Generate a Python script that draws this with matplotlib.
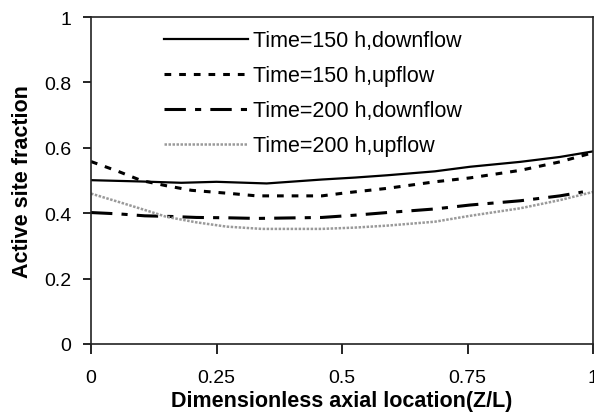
import matplotlib
matplotlib.use("Agg")
import matplotlib.pyplot as plt

plt.rcParams['font.family'] = ['Liberation Sans', 'DejaVu Sans']

# Data
x_150_down = [0.0, 0.10, 0.18, 0.25, 0.35, 0.46, 0.526, 0.59, 0.685, 0.755, 0.855, 0.934, 1.0]
y_150_down = [0.501, 0.497, 0.493, 0.496, 0.491, 0.503, 0.509, 0.516, 0.528, 0.542, 0.557, 0.572, 0.589]

x_150_up = [0.0, 0.054, 0.10, 0.15, 0.20, 0.28, 0.33, 0.46, 0.506, 0.59, 0.685, 0.755, 0.855, 0.934, 1.0]
y_150_up = [0.558, 0.528, 0.500, 0.484, 0.470, 0.460, 0.453, 0.453, 0.462, 0.476, 0.496, 0.508, 0.531, 0.557, 0.585]

x_200_down = [0.0, 0.054, 0.107, 0.16, 0.21, 0.27, 0.33, 0.46, 0.526, 0.59, 0.685, 0.755, 0.855, 0.934, 0.98]
y_200_down = [0.402, 0.398, 0.392, 0.390, 0.387, 0.386, 0.384, 0.387, 0.394, 0.402, 0.413, 0.425, 0.438, 0.453, 0.465]

x_200_up = [0.0, 0.054, 0.107, 0.15, 0.21, 0.27, 0.34, 0.46, 0.526, 0.59, 0.685, 0.755, 0.855, 0.934, 1.0]
y_200_up = [0.460, 0.435, 0.410, 0.389, 0.372, 0.359, 0.352, 0.352, 0.356, 0.362, 0.374, 0.392, 0.415, 0.440, 0.465]

labels = ["Time=150 h,downflow", "Time=150 h,upflow",
          "Time=200 h,downflow", "Time=200 h,upflow"]
x_ticks = [0, 0.25, 0.5, 0.75, 1]
x_ticklabels = ["0", "0.25", "0.5", "0.75", "1"]
y_ticks = [0, 0.2, 0.4, 0.6, 0.8, 1]
y_ticklabels = ["0", "0.2", "0.4", "0.6", "0.8", "1"]

fig = plt.figure(figsize=(5.94, 4.14), dpi=100)
ax = fig.add_axes([91/594, 69/414, 502/594, 327/414])

ax.plot(x_150_down, y_150_down, color='black', lw=1.6, label=labels[0])
ax.plot(x_150_up, y_150_up, color='black', lw=2.2, linestyle=(0, (2.2, 2.6)), label=labels[1])
ax.plot(x_200_down, y_200_down, color='black', lw=2.2, linestyle=(0, (7, 3, 2, 3)), label=labels[2])
ax.plot(x_200_up, y_200_up, color='#9a9a9a', lw=1.8, linestyle=(0, (1, 0.6)), label=labels[3])

ax.set_xlim(0, 1)
ax.set_ylim(0, 1)
ax.set_xticks(x_ticks)
ax.set_xticklabels(x_ticklabels)
ax.set_yticks(y_ticks)
ax.set_yticklabels(y_ticklabels)
ax.tick_params(direction='out', width=1.2, labelsize=14, colors='black')
ax.tick_params(axis='x', length=7, pad=11)
ax.tick_params(axis='y', length=6, pad=8)

for s in ax.spines.values():
    s.set_linewidth(1.2)
    s.set_color('#222222')

ax.set_xlabel("Dimensionless axial location(Z/L)", fontsize=15.5, fontweight='bold', labelpad=3)
ax.set_ylabel("Active site fraction", fontsize=15.5, fontweight='bold', labelpad=8)

leg = ax.legend(loc='upper left', bbox_to_anchor=(0.145, 0.96), frameon=False,
                fontsize=15.5, handlelength=3.9, handletextpad=0.25,
                labelspacing=0.65, borderpad=0, borderaxespad=0)

fig.savefig("out.png", dpi=100)
